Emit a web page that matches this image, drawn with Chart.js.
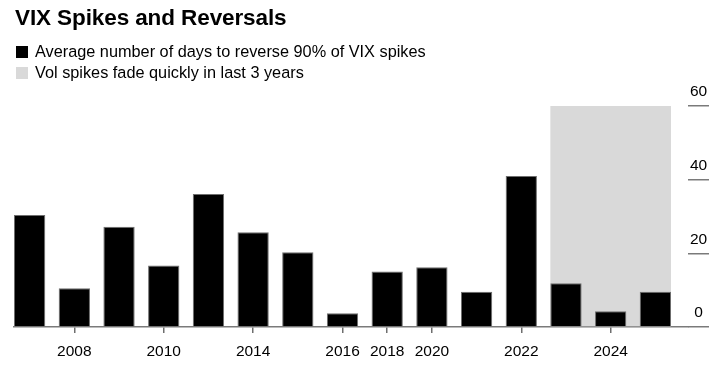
<!DOCTYPE html>
<html>
<head>
<meta charset="utf-8">
<script src="https://cdn.jsdelivr.net/npm/chart.js@4.4.1/dist/chart.umd.min.js"></script>
<style>
  html, body { margin: 0; padding: 0; background: #fff; }
  #wrap { position: relative; width: 717px; height: 367px; overflow: hidden; font-family: "Liberation Sans", Arial, sans-serif; }
  #chart { position: absolute; left: 0; top: 0; }
  #title { position: absolute; left: 15px; top: 5px; font-weight: bold; font-size: 22.5px; color: #000; letter-spacing: -0.1px; }
  #legend { position: absolute; left: 16px; top: 41.5px; font-size: 16.3px; color: #000; }
  .item { display: flex; align-items: center; height: 20.7px; }
  .sw { width: 12px; height: 12px; margin-right: 7px; }
</style>
</head>
<body>
<div id="wrap">
  <canvas id="chart" width="717" height="367"></canvas>
  <div id="title">VIX Spikes and Reversals</div>
  <div id="legend"></div>
</div>
<script>
const categories = ['2007','2008','2009','2010','2011','2014','2015','2016','2018','2020','2021','2022','2023','2024','2025'];
const avgDays = [30.4, 10.5, 27.2, 16.7, 36.1, 25.7, 20.3, 3.7, 15.1, 16.2, 9.6, 41.0, 11.9, 4.3, 9.6];
const shadeValues = [null, null, null, null, null, null, null, null, null, null, null, null, 60, 60, 60];
const xTickLabels = ['2008','2010','2014','2016','2018','2020','2022','2024'];
const yTicks = [0, 20, 40, 60];
const seriesNames = ['Average number of days to reverse 90% of VIX spikes', 'Vol spikes fade quickly in last 3 years'];

const bandPlugin = {
  id: 'band',
  beforeDatasetDraw(chart, args) {
    if (args.index !== 1) return;
    const els = args.meta.data.filter((el, i) => shadeValues[i] != null);
    if (!els.length) return false;
    const first = els[0], last = els[els.length - 1];
    const left = first.x - first.width / 2;
    const right = last.x + last.width / 2;
    const top = first.y, bottom = first.base;
    const ctx = chart.ctx;
    ctx.save();
    ctx.fillStyle = '#d9d9d9';
    ctx.fillRect(left, top, right - left, bottom - top);
    ctx.restore();
    return false;
  }
};

const font = { family: '"Liberation Sans", Arial, sans-serif', size: 15.5 };

const chart = new Chart(document.getElementById('chart'), {
  type: 'bar',
  data: {
    datasets: [
      {
        label: seriesNames[0],
        data: avgDays.map((v, i) => ({ x: i, y: v })),
        backgroundColor: '#000000',
        borderColor: '#6e6e6e',
        borderWidth: 1,
        borderSkipped: 'bottom',
        barPercentage: 0.7,
        categoryPercentage: 1.0,
        grouped: false
      },
      {
        label: seriesNames[1],
        data: shadeValues.map((v, i) => ({ x: i, y: v })),
        backgroundColor: '#d9d9d9',
        borderWidth: 0,
        barPercentage: 0.7,
        categoryPercentage: 1.0,
        grouped: false
      }
    ]
  },
  options: {
    responsive: false,
    animation: false,
    layout: { padding: { left: 14, right: 0, top: 106, bottom: 0 } },
    plugins: { legend: { display: false }, tooltip: { enabled: false }, title: { display: false } },
    scales: {
      x: {
        type: 'linear',
        min: -0.35,
        max: 14.73,
        offset: false,
        afterBuildTicks: (scale) => {
          scale.ticks = xTickLabels.map(l => ({ value: categories.indexOf(l) }));
        },
        afterFit: (scale) => { scale.height = 40; },
        grid: { offset: false, drawOnChartArea: false, drawTicks: true, tickLength: 6, color: '#6e6e6e', lineWidth: 1.5 },
        border: { display: true, color: '#7a7a7a', width: 1.5 },
        ticks: {
          autoSkip: false, maxRotation: 0, padding: 9, color: '#000', font: font,
          callback: (v) => categories[v]
        }
      },
      y: {
        position: 'right',
        min: 0,
        max: 60,
        afterBuildTicks: (scale) => { scale.ticks = yTicks.map(v => ({ value: v })); },
        afterFit: (scale) => { scale.width = 29; },
        grid: { drawOnChartArea: false, drawTicks: true, tickLength: 21, color: '#7a7a7a', lineWidth: 1.5 },
        border: { display: false },
        ticks: { color: '#000', font: font, padding: -19, crossAlign: 'center', labelOffset: -14 }
      }
    }
  },
  plugins: [bandPlugin]
});

const legend = document.getElementById('legend');
chart.data.datasets.forEach(ds => {
  const it = document.createElement('div');
  it.className = 'item';
  const sw = document.createElement('span');
  sw.className = 'sw';
  sw.style.background = ds.backgroundColor;
  const tx = document.createElement('span');
  tx.textContent = ds.label;
  it.appendChild(sw); it.appendChild(tx);
  legend.appendChild(it);
});
</script>
</body>
</html>
